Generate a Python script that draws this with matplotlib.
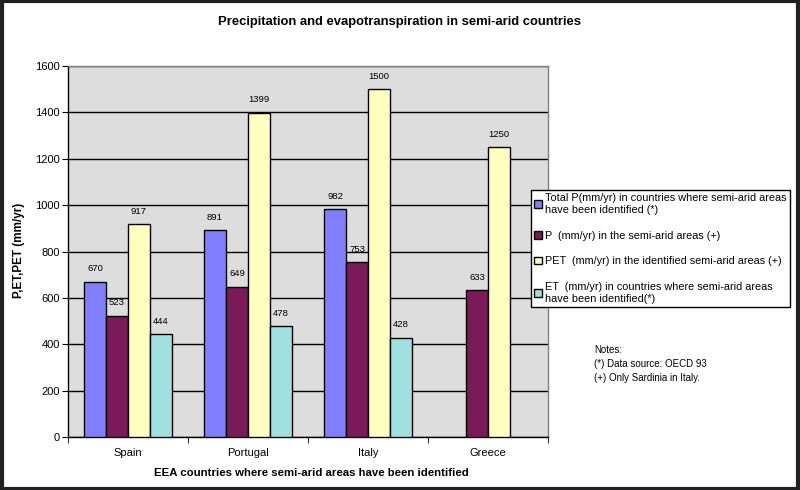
import numpy as np
import matplotlib
matplotlib.use("Agg")
import matplotlib.pyplot as plt
from matplotlib.patches import Rectangle

plt.rcParams['font.family'] = ['Liberation Sans', 'DejaVu Sans']

countries = ["Spain", "Portugal", "Italy", "Greece"]
series_names = [
    "Total P(mm/yr) in countries where semi-arid areas\nhave been identified (*)",
    "P  (mm/yr) in the semi-arid areas (+)",
    "PET  (mm/yr) in the identified semi-arid areas (+)",
    "ET  (mm/yr) in countries where semi-arid areas\nhave been identified(*)",
]
total_p = [670, 891, 982, np.nan]
p_semi = [523, 649, 753, 633]
pet = [917, 1399, 1500, 1250]
et = [444, 478, 428, np.nan]
colors = ["#8080FF", "#7B1A58", "#FFFFC0", "#A0E0E0"]
yticks = [0, 200, 400, 600, 800, 1000, 1200, 1400, 1600]

fig = plt.figure(figsize=(8, 4.9), dpi=100)
ax = fig.add_axes([68/800, 1-437/490, 480/800, 371/490])
ax.set_facecolor("#DDDDDD")

x = np.arange(len(countries))
w = 0.183
all_series = [total_p, p_semi, pet, et]
handles = []
for i, (vals, c) in enumerate(zip(all_series, colors)):
    pos = x + (i - 1.5) * w
    vals = np.array(vals, dtype=float)
    mask = ~np.isnan(vals)
    b = ax.bar(pos[mask], vals[mask], width=w, color=c, edgecolor="black",
               linewidth=1.0, zorder=3)
    handles.append(b)
    for px, v in zip(pos[mask], vals[mask]):
        ax.annotate(f"{int(v)}", (px, v), xytext=(0, 6), textcoords="offset points",
                    ha="center", va="bottom", fontsize=6.8, zorder=4)

ax.set_xlim(-0.5, len(countries) - 0.5)
ax.set_ylim(0, 1600)
ax.set_yticks(yticks)
ax.set_yticklabels([str(t) for t in yticks], fontsize=8)
ax.yaxis.grid(True, color="black", linewidth=1.0, zorder=1)
ax.set_axisbelow(True)
ax.set_xticks(x)
ax.set_xticklabels(countries, fontsize=8)
ax.tick_params(axis="x", length=0, pad=8)
ax.set_xticks(np.arange(-0.5, len(countries)), minor=True)
ax.tick_params(axis="x", which="minor", length=4, direction="out", color="black")
ax.tick_params(axis="y", length=4, direction="out", color="black", pad=2)
for s in ["top", "right"]:
    ax.spines[s].set_color("#808080")
    ax.spines[s].set_linewidth(1.0)
for s in ["left", "bottom"]:
    ax.spines[s].set_color("black")
    ax.spines[s].set_linewidth(1.0)

fig.text(0.5, 1-22/490, "Precipitation and evapotranspiration in semi-arid countries",
         ha="center", va="center", fontsize=9.4, fontweight="bold")
fig.text(19/800, 1-250/490, "P,ET,PET (mm/yr)", rotation=90, ha="center", va="center",
         fontsize=8.4, fontweight="bold")
fig.text(311/800, 1-473/490, "EEA countries where semi-arid areas have been identified",
         ha="center", va="center", fontsize=8.2, fontweight="bold")

leg = fig.legend(handles, series_names, loc="upper left",
                 bbox_to_anchor=(531/800, 1-190/490), fontsize=7.8,
                 frameon=True, fancybox=False, edgecolor="black",
                 handlelength=0.7, handleheight=0.7, handletextpad=0.3,
                 labelspacing=1.45, borderpad=0.3, borderaxespad=0)
leg.get_frame().set_linewidth(1.0)
leg.get_frame().set_facecolor("white")
leg.get_frame().set_alpha(1)

fig.text(594/800, 1-364/490, "Notes:\n(*) Data source: OECD 93\n(+) Only Sardinia in Italy.",
         ha="left", va="center", fontsize=7, linespacing=1.45)

fig.patches.append(Rectangle((0.002, 0.003), 0.995, 0.994, transform=fig.transFigure,
                             fill=False, edgecolor="#202020", linewidth=3, zorder=10))

fig.savefig("out.png", dpi=100)
